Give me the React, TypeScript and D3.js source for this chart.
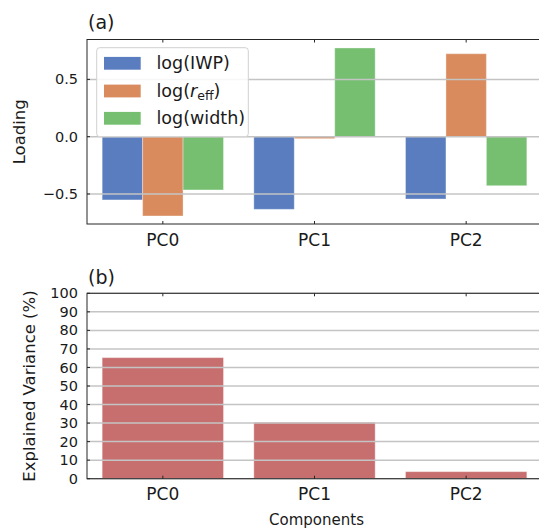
import React from 'react';
import * as d3 from 'd3';

const components = ['PC0', 'PC1', 'PC2'];
const features = ['IWP', 'reff', 'width'];
const loadingIWP = [-0.552, -0.634, -0.544];
const loadingReff = [-0.692, -0.017, 0.724];
const loadingWidth = [-0.465, 0.774, -0.428];
const explainedVariance = [65.3, 30.4, 3.8];
const loadingTicks = [-0.5, 0.0, 0.5];
const varianceTicks = [0, 10, 20, 30, 40, 50, 60, 70, 80, 90, 100];

const colors: Record<string, string> = {
    IWP: '#597dbf',
    reff: '#d98b5e',
    width: '#76bf71',
};
const varColor = '#c76e6e';

const W = 539;
const H = 531;
const left = 87;
const right = 542;
const font = "'DejaVu Sans', sans-serif";
const gridColor = '#c4c4c4';
const spineColor = '#262626';

const fmtLoad = (v: number) => (v < 0 ? '\u2212' : '') + Math.abs(v).toFixed(1);

const LegendLabel = ({ k, x, y }: { k: string; x: number; y: number }) => {
    if (k === 'reff') {
        return (
            <text x={x} y={y} fontSize={17.5} fontFamily={font} fill="#1a1a1a" dominantBaseline="central">
                log(<tspan fontStyle="italic">r</tspan>
                <tspan fontSize={12.5} dy={4}>eff</tspan>
                <tspan dy={-4}>)</tspan>
            </text>
        );
    }
    return (
        <text x={x} y={y} fontSize={17.5} fontFamily={font} fill="#1a1a1a" dominantBaseline="central">
            {`log(${k})`}
        </text>
    );
};

export default function App() {
    const x = d3.scaleBand<string>().domain(components).range([left, right]).paddingInner(0.2).paddingOuter(0.1);
    const xTick = (c: string) => (x(c) as number) + x.bandwidth() / 2;
    const sub = d3.scaleBand<string>().domain(features).range([0, x.bandwidth()]);

    // panel (a)
    const aTop = 39.5;
    const aBottom = 224;
    const yA = d3.scaleLinear().domain([-0.762, 0.848]).range([aBottom, aTop]);
    const series: Record<string, number[]> = { IWP: loadingIWP, reff: loadingReff, width: loadingWidth };

    // panel (b)
    const bTop = 293.3;
    const bBottom = 478.7;
    const yB = d3.scaleLinear().domain([0, 100]).range([bBottom, bTop]);

    const legendRows = [63.3, 91, 118.3];

    return (
        <svg width={W} height={H} style={{ position: 'absolute', left: 0, top: 0, background: '#fff' }}>
            {/* ---------- (a) ---------- */}
            <text x={88} y={28.5} fontSize={19} fontFamily={font} fill="#1a1a1a">(a)</text>
            {features.map((f) =>
                components.map((c, i) => {
                    const v = series[f][i];
                    const y0 = yA(0);
                    const y1 = yA(v);
                    return (
                        <rect
                            key={f + c}
                            x={(x(c) as number) + (sub(f) as number)}
                            width={sub.bandwidth()}
                            y={Math.min(y0, y1)}
                            height={Math.abs(y1 - y0)}
                            fill={colors[f]}
                            stroke="#fff"
                            strokeOpacity={0.35}
                            strokeWidth={1}
                        />
                    );
                })
            )}
            {loadingTicks.map((t) => (
                <g key={t}>
                    <line x1={left} x2={right} y1={yA(t)} y2={yA(t)} stroke={gridColor} strokeWidth={1.5} />
                    <line x1={left} x2={left + 3} y1={yA(t)} y2={yA(t)} stroke={spineColor} strokeWidth={1} />
                    <text x={78} y={yA(t)} dy="0.35em" textAnchor="end" fontSize={14.5} fontFamily={font} fill="#1a1a1a">
                        {fmtLoad(t)}
                    </text>
                </g>
            ))}
            {components.map((c) => (
                <g key={c}>
                    <line x1={xTick(c)} x2={xTick(c)} y1={aBottom} y2={aBottom - 3} stroke={spineColor} />
                    <line x1={xTick(c)} x2={xTick(c)} y1={aTop} y2={aTop + 3} stroke={spineColor} />
                    <text x={xTick(c)} y={245.7} textAnchor="middle" fontSize={17} fontFamily={font} fill="#1a1a1a">
                        {c}
                    </text>
                </g>
            ))}
            <rect x={left} y={aTop} width={right - left} height={aBottom - aTop} fill="none" stroke={spineColor} strokeWidth={1} />
            <text
                transform={`translate(25.3,${(aTop + aBottom) / 2}) rotate(-90)`}
                textAnchor="middle"
                fontSize={16.5}
                fontFamily={font}
                fill="#1a1a1a"
            >
                Loading
            </text>
            {/* legend */}
            <rect x={96.7} y={47.7} width={151.6} height={89} rx={3} fill="#fff" fillOpacity={0.85} stroke="#d0d0d0" strokeWidth={1} />
            {features.map((f, i) => (
                <g key={f}>
                    <rect x={104} y={legendRows[i] - 6.4} width={36.7} height={12.8} fill={colors[f]} />
                    <LegendLabel k={f} x={156.5} y={legendRows[i]} />
                </g>
            ))}

            {/* ---------- (b) ---------- */}
            <text x={88} y={283.5} fontSize={19} fontFamily={font} fill="#1a1a1a">(b)</text>
            {components.map((c, i) => (
                <rect
                    key={c}
                    x={x(c) as number}
                    width={x.bandwidth()}
                    y={yB(explainedVariance[i])}
                    height={bBottom - yB(explainedVariance[i])}
                    fill={varColor}
                    stroke="#fff"
                    strokeOpacity={0.35}
                    strokeWidth={1}
                />
            ))}
            {varianceTicks.map((t) => (
                <g key={t}>
                    <line x1={left} x2={right} y1={yB(t)} y2={yB(t)} stroke={gridColor} strokeWidth={1.5} />
                    <line x1={left} x2={left + 3} y1={yB(t)} y2={yB(t)} stroke={spineColor} strokeWidth={1} />
                    <text x={78} y={yB(t)} dy="0.35em" textAnchor="end" fontSize={14.5} fontFamily={font} fill="#1a1a1a">
                        {t}
                    </text>
                </g>
            ))}
            {components.map((c) => (
                <g key={c}>
                    <line x1={xTick(c)} x2={xTick(c)} y1={bBottom} y2={bBottom - 3} stroke={spineColor} />
                    <line x1={xTick(c)} x2={xTick(c)} y1={bTop} y2={bTop + 3} stroke={spineColor} />
                    <text x={xTick(c)} y={500} textAnchor="middle" fontSize={17} fontFamily={font} fill="#1a1a1a">
                        {c}
                    </text>
                </g>
            ))}
            <rect x={left} y={bTop} width={right - left} height={bBottom - bTop} fill="none" stroke={spineColor} strokeWidth={1} />
            <text
                transform={`translate(35.3,${(bTop + bBottom) / 2}) rotate(-90)`}
                textAnchor="middle"
                fontSize={16.5}
                fontFamily={font}
                fill="#1a1a1a"
            >
                Explained Variance (%)
            </text>
            <text x={(left + right) / 2 + 2} y={525} textAnchor="middle" fontSize={15} fontFamily={font} fill="#1a1a1a">
                Components
            </text>
        </svg>
    );
}
